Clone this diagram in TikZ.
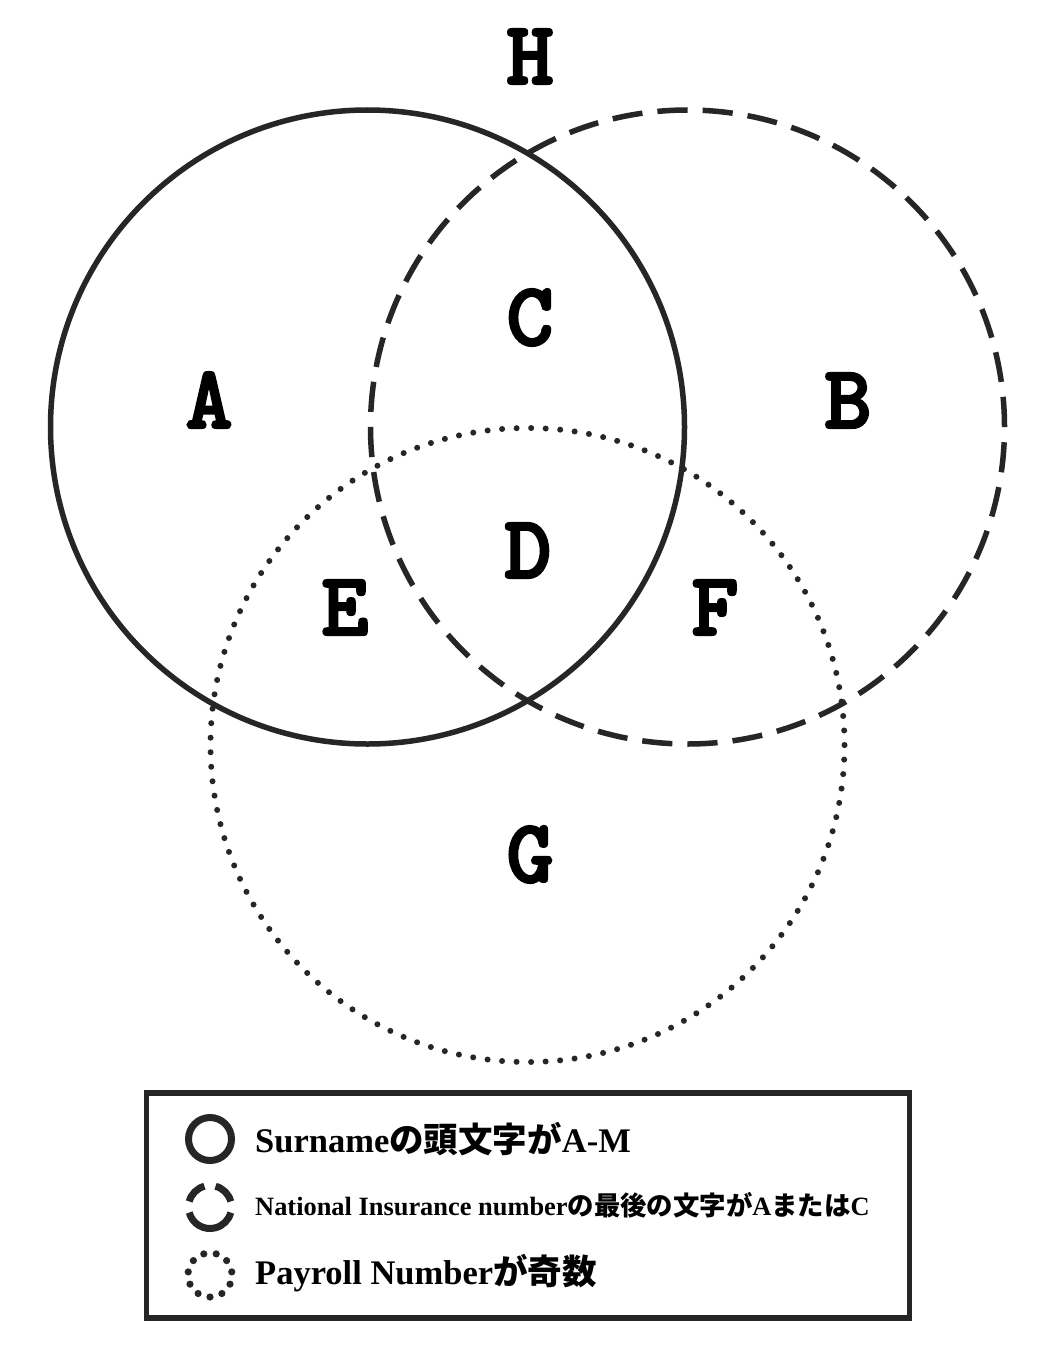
\documentclass[tikz,border=0pt]{standalone}
\usepackage{fontspec}
\setmainfont{Liberation Serif}
\newfontfamily\cjk{Noto Sans CJK JP}
\newfontfamily\letterfont{lmmonolt10-bold}[Extension=.otf, FakeBold=2.5]
\definecolor{ink}{HTML}{262626}
\begin{document}
\begin{tikzpicture}[x=1pt,y=-1pt,
  region/.style={font=\letterfont\fontsize{90}{90}\selectfont, text=black, anchor=base, inner sep=0pt},
  setline/.style={draw=ink, line width=5.5pt},
  dashline/.style={draw=ink, line width=5.5pt, dash pattern=on 30.2pt off 15.07pt},
  dotline/.style={draw=ink, line width=6pt, line cap=round, dash pattern=on 0pt off 14.54pt},
  legtext/.style={anchor=west, inner sep=0pt, font=\bfseries\fontsize{34.5}{38}\selectfont, text=black},
  legtextsmall/.style={anchor=west, inner sep=0pt, font=\bfseries\fontsize{26.4}{30}\selectfont, text=black},
  legicon/.style={draw=ink, line width=7pt}
]
\useasboundingbox (0,0) rectangle (1056,1367);
\fill[white] (0,0) rectangle (1056,1367);

% circles
\coordinate (c1) at (367.5,427);
\coordinate (c2) at (687.5,427);
\coordinate (c3) at (527.5,745);
\draw[setline] (c1) circle[radius=317pt];
\draw[dashline] (c2) circle[radius=317pt];
\draw[dotline] (c3) circle[radius=317pt];

% region letters
\node[region] (H) at (530,84) {H};
\node[region] (C) at (530,345) {C};
\node[region] (A) at (209,428) {A};
\node[region] (B) at (848,428) {B};
\node[region] (D) at (528,578) {D};
\node[region] (E) at (345,635) {E};
\node[region] (F) at (715,635) {F};
\node[region] (G) at (530,882) {G};

% legend
\draw[draw=ink, line width=5.5pt] (146.5,1093) rectangle (909.5,1318);
\coordinate (i1) at (210,1139);
\coordinate (i2) at (210,1207);
\coordinate (i3) at (210,1275);
\draw[legicon] (i1) circle[radius=21.5pt];
\draw[legicon] ([shift={(105:21.5pt)}]i2) arc[start angle=105, end angle=165, radius=21.5pt];
\draw[legicon] ([shift={(15:21.5pt)}]i2) arc[start angle=15, end angle=75, radius=21.5pt];
\draw[legicon] ([shift={(195:21.5pt)}]i2) arc[start angle=195, end angle=345, radius=21.5pt];
\foreach \a in {0,...,10} {
  \fill[ink] ([shift={(-90+\a*32.727:22pt)}]i3) circle[radius=3.6pt];
}
\node[legtext] (t1) at (255,1139) {Surname{\cjk\bfseries の頭文字が}A-M};
\node[legtextsmall] (t2) at (255,1205) {National Insurance number{\cjk\bfseries の最後の文字が}A{\cjk\bfseries または}C};
\node[legtext] (t3) at (255,1273) {Payroll Number{\cjk\bfseries が奇数}};
\end{tikzpicture}
\end{document}
